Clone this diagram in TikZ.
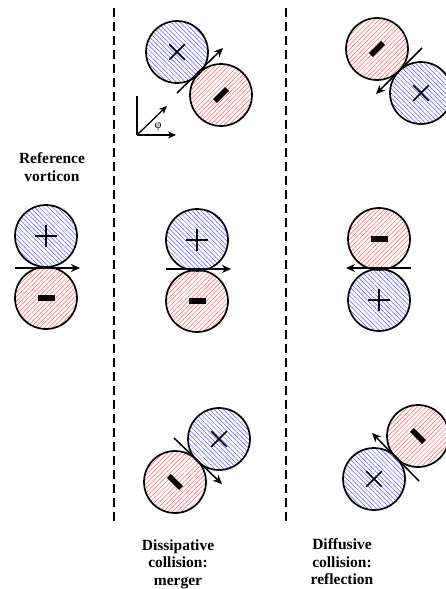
\documentclass[tikz,border=0pt]{standalone}
\usepackage{fontspec}
\setmainfont{Liberation Serif}
\usetikzlibrary{arrows.meta, positioning, calc, patterns.meta}
\definecolor{vblue}{RGB}{90,90,255}
\definecolor{vred}{RGB}{255,100,100}

\tikzset{
  vort/.style={circle, draw, line width=1.7pt, minimum size=62pt, inner sep=0pt},
  posvort/.style={vort, pattern={Lines[angle=-45, distance=3.2pt, line width=0.5pt]}, pattern color=vblue},
  negvort/.style={vort, pattern={Lines[angle=45, distance=3.2pt, line width=0.5pt]}, pattern color=vred},
  flow/.style={-{Stealth[length=9pt, width=8pt]}, line width=1.5pt},
  divider/.style={line width=2pt, dash pattern=on 9pt off 5pt},
  caption/.style={font=\bfseries\fontsize{15.5}{17.5}\selectfont, align=center},
  vplus/.pic={\draw[line width=1.7pt] (-11,0) -- (11,0) (0,-11) -- (0,11);},
  vminus/.pic={\fill (-8.5,-2.7) rectangle (8.5,2.7);}
}

\begin{document}
\begin{tikzpicture}[x=1pt, y=-1pt]
  \useasboundingbox (0,0) rectangle (446,589);
  % Dividers
  \coordinate (d1t) at (114,8);
  \coordinate (d1b) at (114,526);
  \coordinate (d2t) at (286,8);
  \coordinate (d2b) at (286,524);
  \draw[divider] (d1t) -- (d1b);
  \draw[divider] (d2t) -- (d2b);

  % Reference vorticon
  \node[caption] (reftxt) at (52,167) {Reference\\vorticon};
  \node[posvort] (r1) at (46,236) {};
  \node[negvort] (r2) at (46,298) {};
  \pic at (r1.center) {vplus};
  \pic at (r2.center) {vminus};
  \coordinate (r1s) at (15,268);
  \coordinate (r1e) at (80,268);
  \draw[flow] (r1s) -- (r1e);

  % Dissipative collision: top
  \node[posvort] (ma1) at (177,52) {};
  \node[negvort] (ma2) at (221,95) {};
  \pic[rotate=45] at (ma1.center) {vplus};
  \pic[rotate=45] at (ma2.center) {vminus};
  \coordinate (mas) at (177,93);
  \coordinate (mae) at (223,48);
  \draw[flow] (mas) -- (mae);
  % Axes
  \coordinate (ax0) at (137,135);
  \coordinate (axy) at (137,96);
  \coordinate (axx) at (176,135);
  \coordinate (axd) at (167,106);
  \draw[line width=1.3pt] (axy) -- (ax0);
  \draw[-{Stealth[length=8pt, width=7pt]}, line width=1.3pt] (ax0) -- (axx);
  \draw[-{Stealth[length=8pt, width=7pt]}, line width=1.3pt] (ax0) -- (axd);
  \node[font=\fontsize{12}{12}\selectfont] (phi) at (158,127) {φ};

  % Dissipative collision: middle
  \node[posvort] (mb1) at (197,240) {};
  \node[negvort] (mb2) at (197,301) {};
  \pic at (mb1.center) {vplus};
  \pic at (mb2.center) {vminus};
  \coordinate (mbs) at (166,269);
  \coordinate (mbe) at (231,269);
  \draw[flow] (mbs) -- (mbe);

  % Dissipative collision: bottom
  \node[posvort] (mc1) at (219,439) {};
  \node[negvort] (mc2) at (175,482) {};
  \pic[rotate=45] at (mc1.center) {vplus};
  \pic[rotate=-45] at (mc2.center) {vminus};
  \coordinate (mcs) at (174,438);
  \coordinate (mce) at (222,484);
  \draw[flow] (mcs) -- (mce);

  % Diffusive collision: top
  \node[negvort] (ra1) at (377,49) {};
  \node[posvort] (ra2) at (421,93) {};
  \pic[rotate=45] at (ra1.center) {vminus};
  \pic[rotate=45] at (ra2.center) {vplus};
  \coordinate (ras) at (422,48);
  \coordinate (rae) at (376,94);
  \draw[flow] (ras) -- (rae);

  % Diffusive collision: middle
  \node[negvort] (rb1) at (379,239) {};
  \node[posvort] (rb2) at (379,300) {};
  \pic at (rb1.center) {vminus};
  \pic at (rb2.center) {vplus};
  \coordinate (rbs) at (411,268);
  \coordinate (rbe) at (346,268);
  \draw[flow] (rbs) -- (rbe);

  % Diffusive collision: bottom
  \node[negvort] (rc1) at (418,436) {};
  \node[posvort] (rc2) at (374,479) {};
  \pic[rotate=-45] at (rc1.center) {vminus};
  \pic[rotate=45] at (rc2.center) {vplus};
  \coordinate (rcs) at (419,481);
  \coordinate (rce) at (372,433);
  \draw[flow] (rcs) -- (rce);

  % Captions
  \node[caption] (mtxt) at (178,564) {Dissipative\\collision:\\merger};
  \node[caption] (rtxt) at (342,562) {Diffusive\\collision:\\reflection};
\end{tikzpicture}
\end{document}
